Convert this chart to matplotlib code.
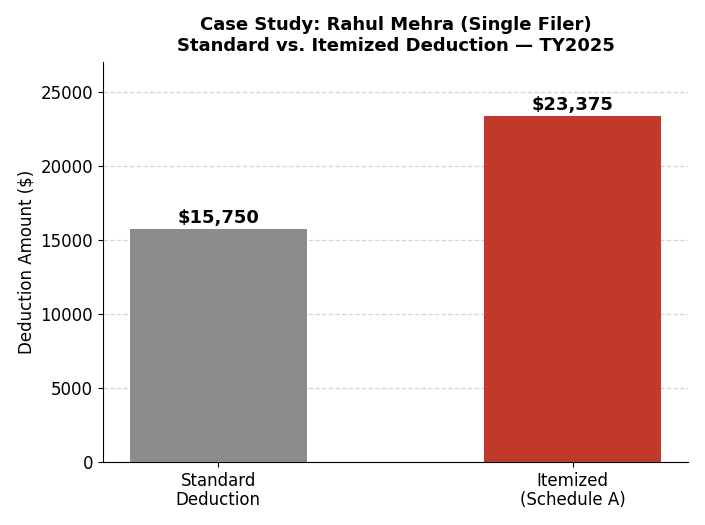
import numpy as np
import matplotlib.pyplot as plt

# Standard deduction vs. itemized
categories = ['Standard\nDeduction', 'Itemized\n(Schedule A)']
amounts = [15750, 23375]
colors = ['#8c8c8c', '#c0392b']

fig, ax = plt.subplots(figsize=(7.05, 5.25), dpi=100)
x = np.arange(len(categories))
bars = ax.bar(x, amounts, width=0.5, color=colors, zorder=3)

for bar, val in zip(bars, amounts):
    ax.text(bar.get_x() + bar.get_width() / 2, val + 120, f'${val:,}',
            ha='center', va='bottom', fontsize=13, fontweight='bold')

ax.set_xticks(x)
ax.set_xticklabels(categories, fontsize=12, linespacing=1.1)
ax.tick_params(axis='y', labelsize=12)
ax.set_ylim(0, 27000)
ax.set_ylabel('Deduction Amount ($)', fontsize=12)
ax.set_title('Case Study: Rahul Mehra (Single Filer)\nStandard vs. Itemized Deduction — TY2025',
             fontsize=13, fontweight='bold', pad=8)
ax.grid(axis='y', linestyle='--', color='#cccccc', linewidth=0.9, alpha=0.8, zorder=0)
ax.spines['top'].set_visible(False)
ax.spines['right'].set_visible(False)
fig.subplots_adjust(left=0.146, right=0.976, bottom=0.12, top=0.882)
plt.savefig('out.png')
